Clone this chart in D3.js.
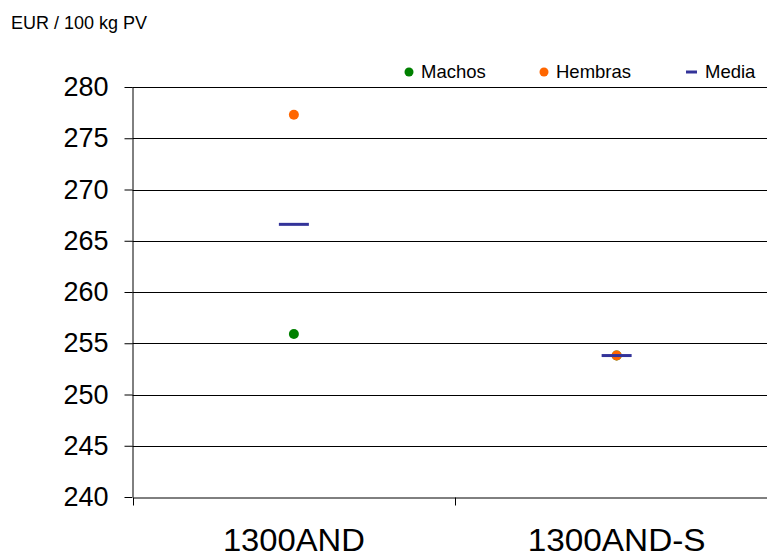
<!DOCTYPE html>
<html><head><meta charset="utf-8">
<script src="https://cdn.jsdelivr.net/npm/d3@7"></script>
<style>body{margin:0;background:#fff}svg{display:block}text{font-family:"Liberation Sans",Arial,sans-serif}</style>
</head><body>
<script>
const categories = ["1300AND", "1300AND-S"];
const machos = [255.9, 253.8];
const hembras = [277.3, 253.8];
const media = [266.6, 253.8];
const yTicks = [240, 245, 250, 255, 260, 265, 270, 275, 280];
const seriesNames = ["Machos", "Hembras", "Media"];
const colors = {Machos: "#008000", Hembras: "#ff6600", Media: "#333399"};

const W = 767, H = 559;
const m = {left: 132.5, top: 87, right: -11, bottom: 62};
const svg = d3.select("body").append("svg").attr("width", W).attr("height", H);
const x = d3.scaleBand().domain(categories).range([m.left, W - m.right]);
const y = d3.scaleLinear().domain([240, 280]).range([H - m.bottom, m.top]);

// gridlines
svg.append("g").selectAll("line").data(yTicks.filter(d => d > 240)).join("line")
  .attr("x1", m.left).attr("x2", W - m.right)
  .attr("y1", d => Math.round(y(d)) + 0.5).attr("y2", d => Math.round(y(d)) + 0.5)
  .attr("stroke", "#000").attr("stroke-width", 1);

// y axis
const yAxis = svg.append("g").attr("transform", `translate(${m.left},0)`)
  .call(d3.axisLeft(y).tickValues(yTicks).tickSize(8).tickPadding(16).tickFormat(d3.format("d")));
yAxis.selectAll("text").attr("font-size", 27).attr("fill", "#000").attr("font-family", "Liberation Sans, Arial, sans-serif");
yAxis.selectAll("line,path").attr("stroke", "#000");
yAxis.select("path").attr("d", `M0.5,${y(280)}V${y(240)}`);

// x axis
const xAxis = svg.append("g").attr("transform", `translate(0,${Math.round(y(240)) + 0.5})`)
  .call(d3.axisBottom(x).tickSize(0).tickPadding(0));
xAxis.select("path").attr("stroke", "#000");
xAxis.selectAll(".tick text").attr("font-size", 31).attr("fill", "#000")
  .attr("font-family", "Liberation Sans, Arial, sans-serif").attr("dy", null).attr("y", 53.5)
  .attr("textLength", 142).attr("lengthAdjust", "spacingAndGlyphs");
xAxis.selectAll(".tick text").filter(d => d === "1300AND-S").attr("textLength", 178);
// category boundary ticks
xAxis.append("g").selectAll("line").data(categories).join("line")
  .attr("x1", d => Math.round(x(d)) + 0.5).attr("x2", d => Math.round(x(d)) + 0.5)
  .attr("y1", 0).attr("y2", 8).attr("stroke", "#000");

const cx = d => x(d) + x.bandwidth() / 2;

svg.append("g").selectAll("circle").data(categories).join("circle")
  .attr("cx", cx).attr("cy", (d, i) => y(machos[i])).attr("r", 5).attr("fill", colors.Machos);
svg.append("g").selectAll("circle").data(categories).join("circle")
  .attr("cx", cx).attr("cy", (d, i) => y(hembras[i])).attr("r", 5).attr("fill", colors.Hembras);
svg.append("g").selectAll("line").data(categories).join("line")
  .attr("x1", d => cx(d) - 15).attr("x2", d => cx(d) + 15)
  .attr("y1", (d, i) => y(media[i])).attr("y2", (d, i) => y(media[i]))
  .attr("stroke", colors.Media).attr("stroke-width", 3);

// y title
svg.append("text").attr("x", 11).attr("y", 29).attr("font-size", 18).attr("fill", "#000").text("EUR / 100 kg PV");

// legend
const lg = svg.append("g").attr("font-size", 18.5);
const legX = [409, 544, 686];
seriesNames.forEach((s, i) => {
  if (s === "Media") {
    lg.append("line").attr("x1", legX[i]).attr("x2", legX[i] + 11).attr("y1", 72).attr("y2", 72)
      .attr("stroke", colors.Media).attr("stroke-width", 3);
    lg.append("text").attr("x", legX[i] + 19).attr("y", 78).text(s);
  } else {
    lg.append("circle").attr("cx", legX[i]).attr("cy", 72).attr("r", 4.5).attr("fill", colors[s]);
    lg.append("text").attr("x", legX[i] + 12).attr("y", 78).text(s);
  }
});
</script>
</body></html>
